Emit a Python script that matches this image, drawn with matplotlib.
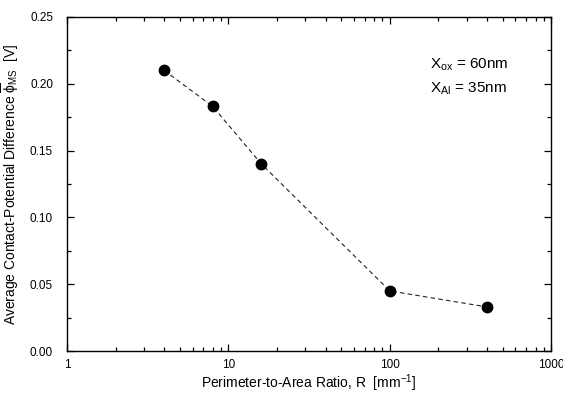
import numpy as np
import matplotlib
matplotlib.use('Agg')
import matplotlib.pyplot as plt
from matplotlib.ticker import MultipleLocator, LogLocator, FixedFormatter, FixedLocator

plt.rcParams['font.family'] = 'Liberation Sans'
plt.rcParams['mathtext.fontset'] = 'custom'
plt.rcParams['mathtext.rm'] = 'Liberation Sans'
plt.rcParams['mathtext.it'] = 'Liberation Sans'

ratio = [4, 8, 16, 100, 400]
phi_ms = [0.210, 0.183, 0.140, 0.045, 0.033]
xticks = [1, 10, 100, 1000]
xticklabels = ['1', '10', '100', '1000']

fig = plt.figure(figsize=(5.63, 3.94), dpi=100)
ax = fig.add_axes([0.119, 0.109, 0.860, 0.848])

ax.plot(ratio, phi_ms, '--', color='#222222', lw=0.8, dashes=(4, 3))
ax.plot(ratio, phi_ms, 'ko', ms=7.5)

ax.set_xscale('log')
ax.set_xlim(1, 1000)
ax.set_ylim(0, 0.25)
ax.xaxis.set_major_locator(FixedLocator(xticks))
ax.xaxis.set_major_formatter(FixedFormatter(xticklabels))
ax.xaxis.set_minor_locator(LogLocator(base=10, subs=np.arange(2, 10)))
ax.xaxis.set_minor_formatter(FixedFormatter([]))
ax.yaxis.set_major_locator(MultipleLocator(0.05))
ax.yaxis.set_minor_locator(MultipleLocator(0.025))
ax.yaxis.set_major_formatter(plt.FuncFormatter(lambda v, p: f'{v:.2f}'))

ax.tick_params(which='both', direction='in', top=True, right=True, labelsize=8.5, width=0.9)
ax.tick_params(which='major', length=5)
ax.tick_params(which='minor', length=3)
ax.tick_params(axis='x', pad=6)
ax.tick_params(axis='y', pad=10)
for s in ax.spines.values():
    s.set_linewidth(1.0)

ax.set_xlabel('Perimeter-to-Area Ratio, R  [mm$^{-1}$]', fontsize=10, labelpad=1)
ax.set_ylabel(r'Average Contact-Potential Difference $\overline{\phi}_{\mathrm{MS}}$  [V]', fontsize=10, labelpad=6)

ax.text(0.75, 0.844, r'X$_{\mathrm{ox}}$ = 60nm', transform=ax.transAxes, fontsize=11)
ax.text(0.75, 0.775, r'X$_{\mathrm{Al}}$ = 35nm', transform=ax.transAxes, fontsize=11)

fig.savefig('out.png', dpi=100)
